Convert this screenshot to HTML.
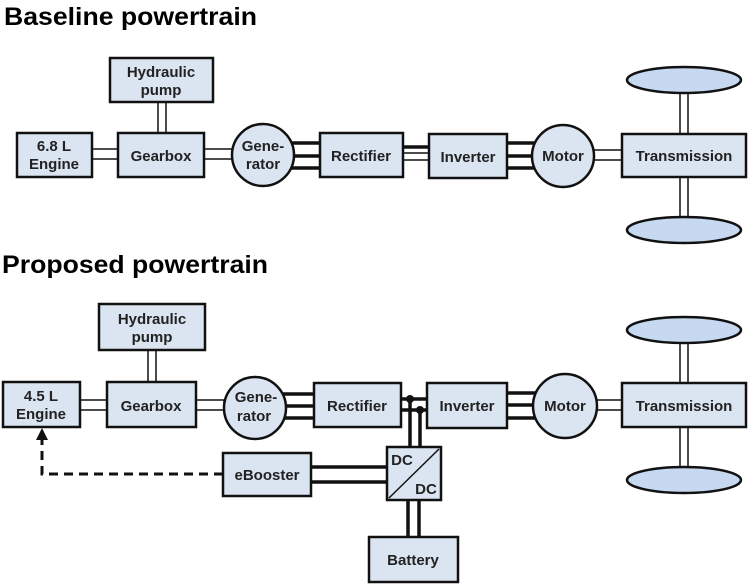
<!DOCTYPE html>
<html><head><meta charset="utf-8"><style>body{margin:0;background:#fff}svg{display:block}</style></head>
<body>
<svg width="754" height="586" viewBox="0 0 754 586" xmlns="http://www.w3.org/2000/svg" font-family="Liberation Sans, sans-serif" font-weight="bold">
<defs>
<style>
.b{fill:#dbe5f1;stroke:#111;stroke-width:2.5}
.e{fill:#c6d9f1;stroke:#111;stroke-width:2.5}
.m{fill:#fff;stroke:#111;stroke-width:1.5}
.t{stroke:#111;stroke-width:3.5}
text{font-size:15px;fill:#222;text-anchor:middle}
</style>
</defs>
<text x="4" y="25" style="font-size:25px;text-anchor:start;fill:#000" textLength="253" lengthAdjust="spacingAndGlyphs">Baseline powertrain</text>
<text x="2" y="273" style="font-size:25px;text-anchor:start;fill:#000" textLength="266" lengthAdjust="spacingAndGlyphs">Proposed powertrain</text>

<!-- Baseline -->
<rect class="m" x="92" y="149" width="26" height="10"/>
<rect class="m" x="204" y="149" width="28" height="10"/>
<rect class="m" x="158" y="102" width="8" height="31"/>
<line class="t" x1="290" y1="143" x2="320" y2="143"/>
<line class="t" x1="294" y1="156" x2="320" y2="156"/>
<line class="t" x1="290" y1="168" x2="320" y2="168"/>
<line class="t" x1="403" y1="147" x2="429" y2="147"/>
<rect class="m" x="403" y="153" width="26" height="7"/>
<line class="t" x1="507" y1="143" x2="536" y2="143"/>
<line class="t" x1="507" y1="156" x2="532" y2="156"/>
<line class="t" x1="507" y1="168" x2="536" y2="168"/>
<rect class="m" x="594" y="150" width="28" height="10"/>
<rect class="m" x="680" y="92" width="8" height="42"/>
<rect class="m" x="680" y="177" width="8" height="41"/>
<rect class="b" x="110" y="58" width="103" height="44"/>
<text x="161" y="77">Hydraulic</text><text x="161" y="95">pump</text>
<rect class="b" x="17" y="133" width="75" height="44"/>
<text x="54" y="151">6.8 L</text><text x="54" y="169">Engine</text>
<rect class="b" x="118" y="133" width="86" height="44"/>
<text x="161" y="161">Gearbox</text>
<circle class="b" cx="263" cy="155" r="31"/>
<text x="263" y="151">Gene-</text><text x="263" y="169">rator</text>
<rect class="b" x="320" y="133" width="83" height="44"/>
<text x="361" y="161">Rectifier</text>
<rect class="b" x="429" y="134" width="78" height="44"/>
<text x="468" y="162">Inverter</text>
<circle class="b" cx="563" cy="156" r="31"/>
<text x="563" y="161">Motor</text>
<rect class="b" x="622" y="134" width="124" height="43"/>
<text x="684" y="161">Transmission</text>
<ellipse class="e" cx="684" cy="80" rx="57" ry="13"/>
<ellipse class="e" cx="684" cy="230" rx="57" ry="13"/>

<!-- Proposed -->
<rect class="m" x="80" y="400" width="27" height="10"/>
<rect class="m" x="196" y="400" width="28" height="10"/>
<rect class="m" x="148" y="350" width="8" height="33"/>
<line class="t" x1="283" y1="394" x2="314" y2="394"/>
<line class="t" x1="286" y1="406" x2="314" y2="406"/>
<line class="t" x1="283" y1="418" x2="314" y2="418"/>
<line class="t" x1="401" y1="399" x2="427" y2="399"/>
<line class="t" x1="401" y1="410" x2="427" y2="410"/>
<line class="t" x1="410" y1="399" x2="410" y2="447"/>
<line class="t" x1="420" y1="410" x2="420" y2="447"/>
<circle cx="410" cy="399" r="4" fill="#111"/>
<circle cx="420" cy="410" r="4" fill="#111"/>
<line class="t" x1="408" y1="500" x2="408" y2="537"/>
<line class="t" x1="419" y1="500" x2="419" y2="537"/>
<line class="t" x1="311" y1="467" x2="387" y2="467"/>
<line class="t" x1="311" y1="482" x2="387" y2="482"/>
<line class="t" x1="507" y1="393" x2="537" y2="393"/>
<line class="t" x1="507" y1="405" x2="533" y2="405"/>
<line class="t" x1="507" y1="418" x2="537" y2="418"/>
<rect class="m" x="596" y="400" width="26" height="10"/>
<rect class="m" x="680" y="343" width="8" height="40"/>
<rect class="m" x="680" y="427" width="8" height="40"/>
<path d="M223 474 H42 V438" fill="none" stroke="#111" stroke-width="3" stroke-dasharray="9,6"/>
<path d="M42 428 L36 440 L48 440 Z" fill="#111"/>
<rect class="b" x="99" y="304" width="106" height="46"/>
<text x="152" y="324">Hydraulic</text><text x="152" y="342">pump</text>
<rect class="b" x="3" y="382" width="77" height="45"/>
<text x="41" y="401">4.5 L</text><text x="41" y="419">Engine</text>
<rect class="b" x="107" y="382" width="89" height="45"/>
<text x="151" y="411">Gearbox</text>
<circle class="b" cx="255" cy="408" r="31"/>
<text x="256" y="402">Gene-</text><text x="254" y="421">rator</text>
<rect class="b" x="314" y="383" width="87" height="44"/>
<text x="357" y="411">Rectifier</text>
<rect class="b" x="427" y="383" width="80" height="45"/>
<text x="467" y="411">Inverter</text>
<circle class="b" cx="565" cy="406" r="32"/>
<text x="565" y="411">Motor</text>
<rect class="b" x="622" y="383" width="124" height="44"/>
<text x="684" y="411">Transmission</text>
<ellipse class="e" cx="684" cy="330" rx="57" ry="13"/>
<ellipse class="e" cx="684" cy="480" rx="57" ry="13"/>
<rect class="b" x="223" y="453" width="88" height="43"/>
<text x="267" y="480">eBooster</text>
<rect class="b" x="387" y="447" width="54" height="53"/>
<line x1="389" y1="498" x2="439" y2="449" stroke="#111" stroke-width="1.5"/>
<text x="402" y="465">DC</text><text x="426" y="494">DC</text>
<rect class="b" x="369" y="537" width="89" height="45"/>
<text x="413" y="565">Battery</text>
</svg>
</body></html>
